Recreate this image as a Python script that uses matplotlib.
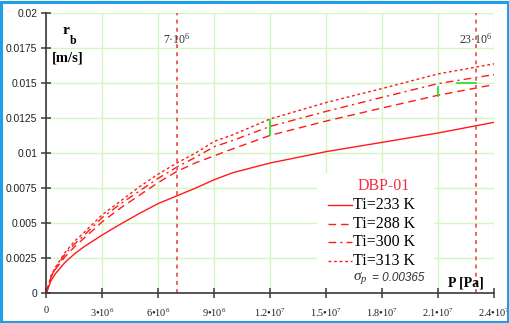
import matplotlib
matplotlib.use("Agg")
import matplotlib.pyplot as plt
from matplotlib.patches import Rectangle
from matplotlib.lines import Line2D
import numpy as np

# Burning rate r_b versus pressure P for DBP-01 at four initial temperatures
pressure_mpa = [0, 0.25, 0.5, 1, 1.5, 2, 3, 4, 5, 6, 7, 8, 9, 10, 12, 15, 18, 21, 24]
rb_233 = [0, 0.0009, 0.00142, 0.0022, 0.0028, 0.0033, 0.00416, 0.00495, 0.0057, 0.0064,
          0.00695, 0.0075, 0.0081, 0.0086, 0.00929, 0.0101, 0.01076, 0.01143, 0.01219]
rb_288 = [0, 0.00115, 0.00174, 0.0026, 0.0033, 0.0039, 0.0051, 0.0061, 0.0070, 0.0079,
          0.00869, 0.0093, 0.0098, 0.0103, 0.01126, 0.01228, 0.01321, 0.01412, 0.01488]
rb_300 = [0, 0.0012, 0.0018, 0.0028, 0.0035, 0.0041, 0.0054, 0.0064, 0.0073, 0.0082,
          0.0090, 0.0097, 0.01045, 0.0109, 0.0119, 0.01297, 0.01397, 0.01495, 0.01559]
rb_313 = [0, 0.00124, 0.00188, 0.0029, 0.0037, 0.0043, 0.0056, 0.0066, 0.0076, 0.0085,
          0.00929, 0.0100, 0.01083, 0.0113, 0.01243, 0.0136, 0.0146, 0.01564, 0.01636]
legend_labels = ["Ti=233 K", "Ti=288 K", "Ti=300 K", "Ti=313 K"]
marker_pressures = [7e6, 23e6]
marker_labels = ["7\u00b710$^{6}$", "23\u00b710$^{6}$"]

# green trace segments (pressure Pa, r_b) pairs
green_segments = [
    ([12e6, 12e6], [0.01126, 0.01233]),
    ([21e6, 21e6], [0.01409, 0.01470]),
    ([22e6, 23e6], [0.0150, 0.0150]),
]

x_ticks = [0, 3e6, 6e6, 9e6, 1.2e7, 1.5e7, 1.8e7, 2.1e7, 2.4e7]
x_tick_labels = ["0", "3\u202210$^{6}$", "6\u202210$^{6}$", "9\u202210$^{6}$",
                 "1.2\u202210$^{7}$", "1.5\u202210$^{7}$", "1.8\u202210$^{7}$",
                 "2.1\u202210$^{7}$", "2.4\u202210$^{7}$"]
y_ticks = [0, 0.0025, 0.005, 0.0075, 0.01, 0.0125, 0.015, 0.0175, 0.02]
y_tick_labels = ["0", "0.0025", "0.005", "0.0075", "0.01", "0.0125", "0.015", "0.0175", "0.02"]

plt.rcParams["mathtext.fontset"] = "custom"
plt.rcParams["mathtext.rm"] = "Liberation Serif"
plt.rcParams["mathtext.it"] = "Liberation Serif:italic"

W, H = 510, 323
fig = plt.figure(figsize=(W / 100, H / 100), dpi=100)
fig.patch.set_facecolor("white")

x0, x1 = 46.3, 494.3
y0, y1 = 293.3, 12.7
ax = fig.add_axes([x0 / W, 1 - y0 / H, (x1 - x0) / W, (y0 - y1) / H])
ax.set_xlim(0, 2.4e7)
ax.set_ylim(0, 0.02)

grid_c = "#d6f5c4"
ax.set_xticks(x_ticks)
ax.set_yticks(y_ticks)
ax.grid(True, color=grid_c, lw=1.0)
ax.set_axisbelow(True)
for s in ["top", "right"]:
    ax.spines[s].set_visible(False)
for s in ["left", "bottom"]:
    ax.spines[s].set_color("#3a3a3a")
    ax.spines[s].set_linewidth(1.2)
ax.tick_params(direction="inout", length=7, width=1.1, color="#3a3a3a")
ax.set_yticklabels(y_tick_labels, fontsize=7.4, family="Liberation Sans", color="#222222")
ax.set_xticklabels(x_tick_labels, fontsize=7.4, family="Liberation Serif", color="#222222")
ax.tick_params(axis="x", pad=6)
ax.tick_params(axis="y", pad=3)

P = np.array(pressure_mpa) * 1e6
red = "#ff1a1a"
styles = [dict(linestyle="-"),
          dict(dashes=(5.5, 3.5)),
          dict(dashes=(5.5, 3, 1.5, 3)),
          dict(dashes=(2, 2))]
for series, st in zip([rb_233, rb_288, rb_300, rb_313], styles):
    ax.plot(P, series, color=red, lw=1.0, **st)

for xs, ys in green_segments:
    ax.plot(xs, ys, color="#22dd22", lw=1.2)

for xp, lab in zip(marker_pressures, marker_labels):
    ax.axvline(xp, color="#f06060", lw=1.4, dashes=(2, 2.2))
    ax.text(xp, 0.0176, lab, ha="center", va="bottom", fontsize=8.5,
            family="Liberation Serif", color="#333333")

# legend panel
ax.add_patch(Rectangle((0.605, 0.02), 0.26, 0.41, transform=ax.transAxes,
                       facecolor="white", edgecolor="none", zorder=3))
tx = 353 / W
entry_y = [205, 223.5, 242.3, 261]
for yy, st, lab in zip(entry_y, styles, legend_labels):
    fy = 1 - yy / H
    fig.add_artist(Line2D([328 / W, 352 / W], [fy, fy], color=red, lw=1.0, **st))
    fig.text(tx, fy, lab, fontsize=11.5, family="Liberation Serif",
             va="center", ha="left", color="black")
fig.text(384 / W, 1 - 186.5 / H, "DBP-01", fontsize=11.5, family="Liberation Serif",
         va="center", ha="center", color="#f03040")
fig.text(353 / W, 1 - 278 / H, r"$\sigma_p$", fontsize=11, va="center", ha="left",
         color="#333333")
fig.text(372 / W, 1 - 278 / H, "= 0.00365", fontsize=8.5, family="Liberation Sans",
         style="italic", va="center", ha="left", color="#333333")

fig.text(448 / W, 1 - 283 / H, "P [Pa]", fontsize=10, family="Liberation Serif",
         weight="bold", va="center", ha="left", color="black")
fig.text(63 / W, 1 - 31 / H, "r", fontsize=11, family="Liberation Serif",
         weight="bold", va="center", ha="left", color="black")
fig.text(70 / W, 1 - 41 / H, "b", fontsize=8.5, family="Liberation Serif",
         weight="bold", va="center", ha="left", color="black")
fig.text(52 / W, 1 - 58 / H, "[m/s]", fontsize=10.5, family="Liberation Serif",
         weight="bold", va="center", ha="left", color="black")

# outer frame
fig.add_artist(Rectangle((1.2 / W, 1.5 / H), (W - 3.4) / W, (H - 3.5) / H,
                         transform=fig.transFigure, fill=False,
                         edgecolor="#1ea0e6", lw=2.2))

fig.savefig("out.png", dpi=100)
